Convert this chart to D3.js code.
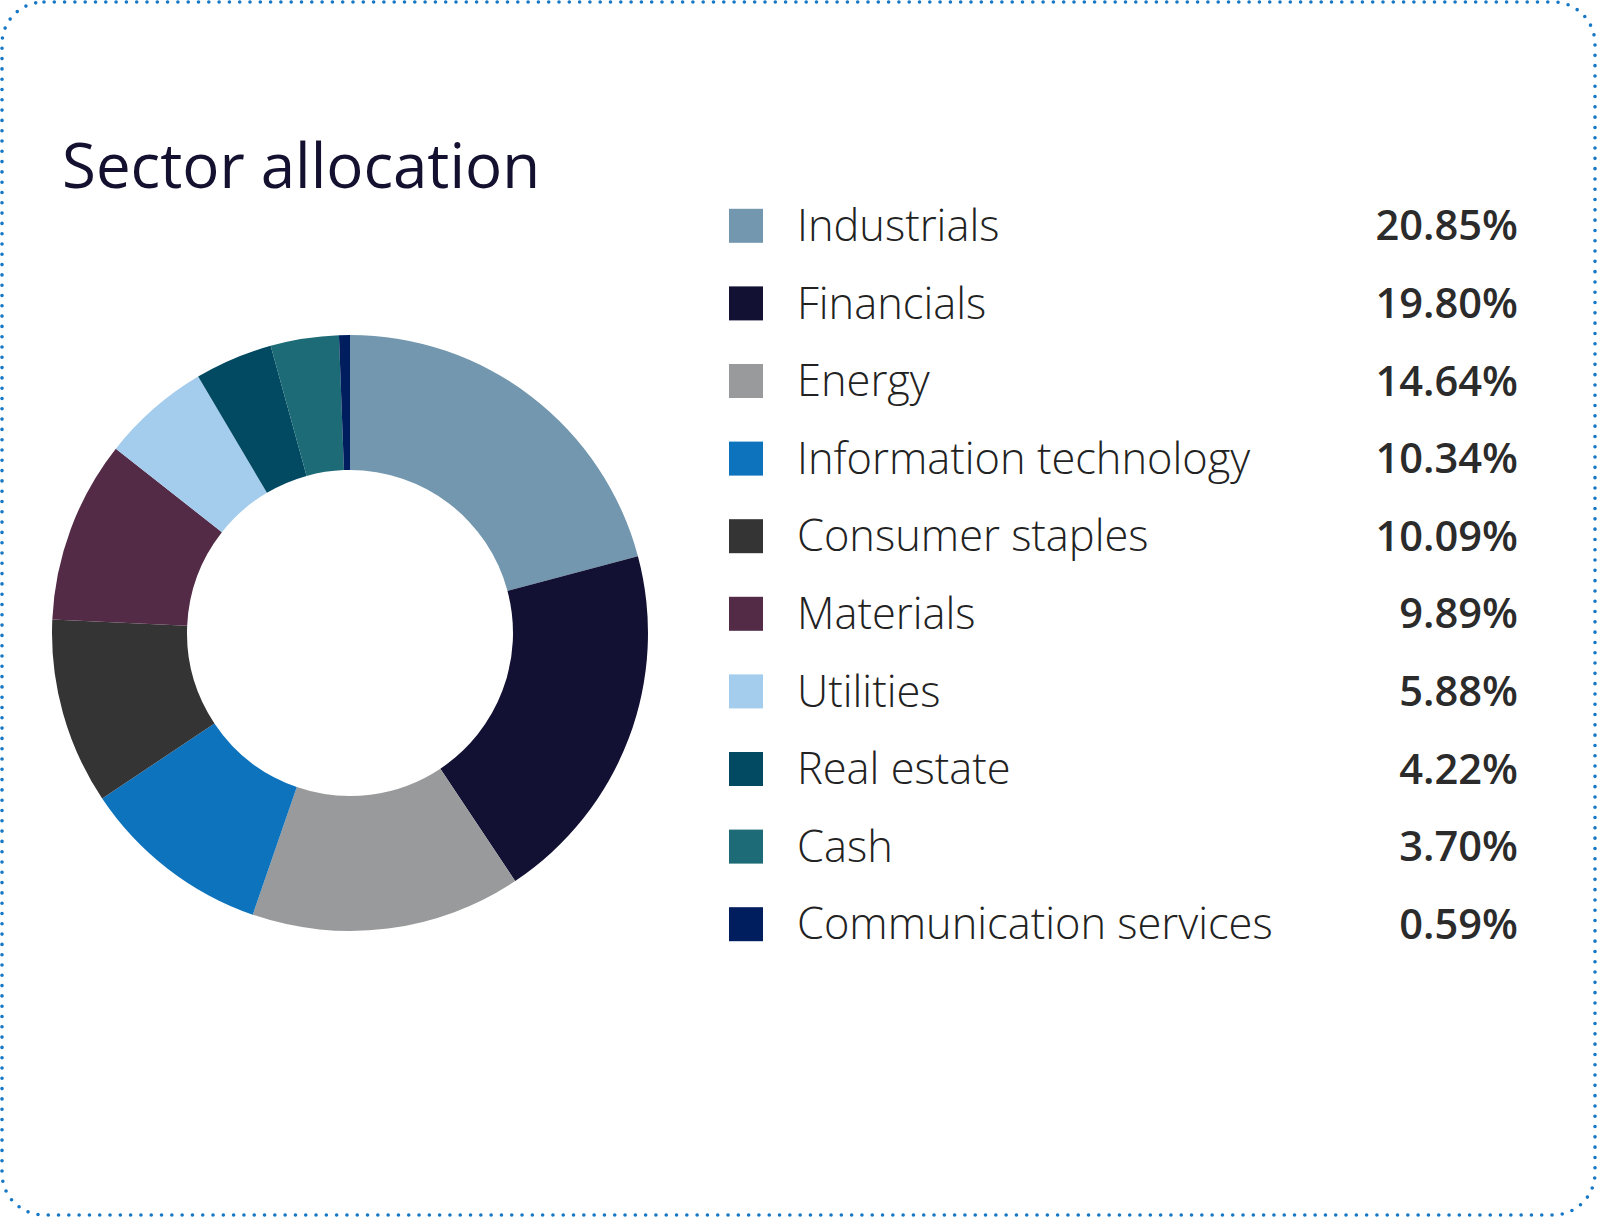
<!DOCTYPE html>
<html>
<head>
<meta charset="utf-8">
<script src="https://cdn.jsdelivr.net/npm/d3@7"></script>
<style>
  html, body { margin: 0; padding: 0; background: #fff; }
  svg { display: block; }
</style>
</head>
<body>
<div id="chart"></div>
<script>
// sector allocation data
const sectors = ["Industrials", "Financials", "Energy", "Information technology", "Consumer staples",
  "Materials", "Utilities", "Real estate", "Cash", "Communication services"];
const weights = [20.85, 19.80, 14.64, 10.34, 10.09, 9.89, 5.88, 4.22, 3.70, 0.59];
const colours = ["#7297ae", "#121133", "#999a9b", "#0e73bd", "#343434",
  "#532b47", "#a4cced", "#014a62", "#1d6b76", "#001d5e"];

const width = 1597, height = 1217;

const svg = d3.select("#chart").append("svg")
  .attr("width", width)
  .attr("height", height);

// dotted rounded frame
svg.append("rect")
  .attr("x", 2).attr("y", 2)
  .attr("width", width - 4).attr("height", height - 4)
  .attr("rx", 42).attr("ry", 42)
  .attr("fill", "none")
  .attr("stroke", "#1677c4")
  .attr("stroke-width", 3.6)
  .attr("stroke-linecap", "round")
  .attr("stroke-dasharray", "0 10.3");

svg.append("text")
  .attr("x", 62).attr("y", 188)
  .attr("font-family", "Open Sans")
  .attr("font-size", 61.8)
  .attr("fill", "#13112f")
  .text("Sector allocation");

// donut
const colour = d3.scaleOrdinal().domain(sectors).range(colours);
const pie = d3.pie().sort(null).value(d => d.value);
const arc = d3.arc().innerRadius(163).outerRadius(298);

const slices = pie(sectors.map((s, i) => ({ name: s, value: weights[i] })));

svg.append("g")
  .attr("transform", "translate(350,633)")
  .selectAll("path")
  .data(slices)
  .join("path")
  .attr("fill", d => colour(d.data.name))
  .attr("d", arc);

// legend
const y = d3.scaleBand().domain(sectors).range([187, 187 + 77.6 * sectors.length]);

const row = svg.append("g")
  .selectAll("g")
  .data(sectors)
  .join("g")
  .attr("transform", d => `translate(0,${y(d) + y.bandwidth() / 2})`);

row.append("rect")
  .attr("x", 729).attr("y", -17)
  .attr("width", 34).attr("height", 34)
  .attr("fill", d => colour(d));

row.append("text")
  .attr("x", 797).attr("dy", "0.35em")
  .attr("font-family", "Open Sans")
  .attr("font-weight", 300)
  .attr("font-size", 43.4)
  .attr("fill", "#222")
  .text(d => d);

row.append("text")
  .attr("x", 1518).attr("dy", "0.35em")
  .attr("text-anchor", "end")
  .attr("font-family", "Open Sans")
  .attr("font-weight", 600)
  .attr("font-size", 41.6)
  .attr("fill", "#2b2b2b")
  .text((d, i) => weights[i].toFixed(2) + "%");
</script>
</body>
</html>
